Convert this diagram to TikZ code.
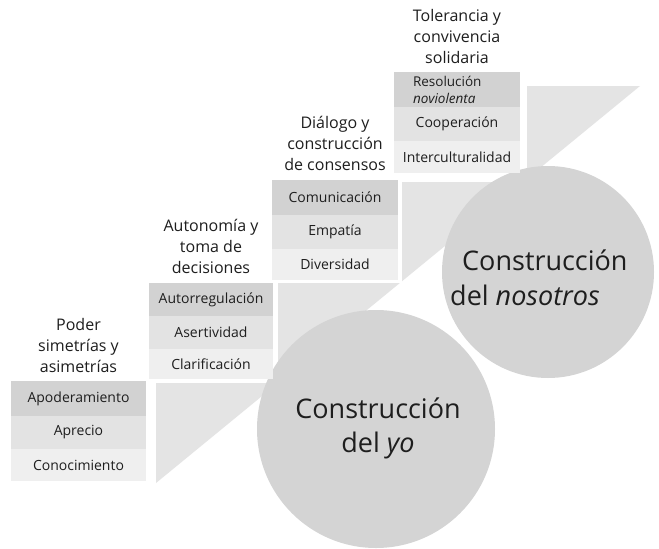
\documentclass[tikz,border=0pt]{standalone}
\usepackage{fontspec}
\setmainfont{Open Sans}
\definecolor{rowdark}{HTML}{D2D2D2}
\definecolor{rowmid}{HTML}{E3E3E3}
\definecolor{rowlight}{HTML}{EFEFEF}
\definecolor{wedge}{HTML}{E4E4E4}
\definecolor{disc}{HTML}{D4D4D4}
\definecolor{discboth}{HTML}{C3C3C3}
\definecolor{ink}{HTML}{1E1E1E}
\begin{document}
\begin{tikzpicture}[x=1pt,y=-1pt,
	row/.style={inner sep=0pt,minimum width=126pt,text=ink,font=\fontsize{14}{16}\selectfont},
	title/.style={anchor=south,inner sep=0pt,align=center,text=ink,font=\fontsize{16}{21}\selectfont},
	big/.style={inner sep=0pt,text=ink,font=\fontsize{27}{34}\selectfont}]
	\useasboundingbox[fill=white] (0,0) rectangle (659,549);
	\fill[wedge] (156,86) -- (640,86) -- (156,483) -- cycle;
	\fill[white] (144,0) rectangle (278,383);
	\fill[white] (267,0) rectangle (402,283);
	\fill[white] (389,0) rectangle (527,182);
	
	\fill[disc] (548,272) circle (106pt);
	\fill[disc] (376,429) circle (119pt);
	\begin{scope}
		\clip (548,272) circle (106pt);
		\fill[discboth] (376,429) circle (119pt);
	\end{scope}
	
	\node[row,fill=rowdark,minimum width=135pt,minimum height=35pt] (apo) at (78.5,398.5) {Apoderamiento};
	\node[row,fill=rowmid,minimum width=135pt,minimum height=33pt] (apr) at (78.5,432.5) {Aprecio};
	\node[row,fill=rowlight,minimum width=135pt,minimum height=32pt] (con) at (78.5,465) {Conocimiento};
	
	\node[row,fill=rowdark,minimum width=124pt,minimum height=33pt] (aut) at (211,299.5) {Autorregulación};
	\node[row,fill=rowmid,minimum width=124pt,minimum height=33pt] (ase) at (211,332.5) {Asertividad};
	\node[row,fill=rowlight,minimum width=124pt,minimum height=30pt] (cla) at (211,364) {Clarificación};
	
	\node[row,fill=rowdark,minimum height=35pt] (com) at (335,197.5) {Comunicación};
	\node[row,fill=rowmid,minimum height=34pt] (emp) at (335,232) {Empatía};
	\node[row,fill=rowlight,minimum height=31pt] (div) at (335,264.5) {Diversidad};
	
	\node[row,fill=rowdark,minimum height=35pt,text width=88pt,align=left,font=\fontsize{13.5}{17}\selectfont] (res) at (457,89.5) {Resolución\\\textit{noviolenta}};
	\node[row,fill=rowmid,minimum height=34pt] (coo) at (457,124) {Cooperación};
	\node[row,fill=rowlight,minimum height=32pt] (int) at (457,157) {Interculturalidad};
	
	\node[title] (poder) at (78.5,373) {Poder\\simetrías y\\asimetrías};
	\node[title] (autonomia) at (211,274) {Autonomía y\\toma de\\decisiones};
	\node[title] (dialogo) at (335,171) {Diálogo y\\construcción\\de consensos};
	\node[title] (tolerancia) at (457,64) {Tolerancia y\\convivencia\\solidaria};
	
	\node[big,anchor=base west] (nosotrosA) at (462,270) {Construcción};
	\node[big,anchor=base west] (nosotrosB) at (450,305) {del \textit{nosotros}};
	\node[big,anchor=base] (yoA) at (378,418) {Construcción};
	\node[big,anchor=base] (yoB) at (378,452) {del \textit{yo}};
\end{tikzpicture}
\end{document}
